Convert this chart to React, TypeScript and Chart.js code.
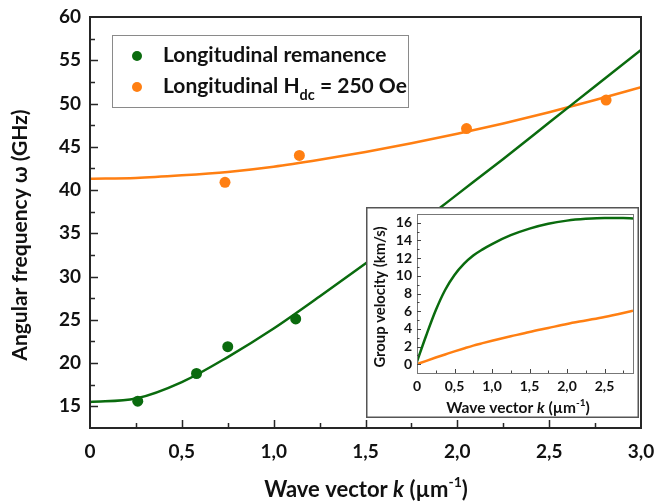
import React, { useEffect, useRef } from 'react';
import { Chart, registerables } from 'chart.js';

Chart.register(...registerables);

// ---------- Data ----------
const remanenceK = [0.26, 0.58, 0.75, 1.12];
const remanenceW = [15.6, 18.8, 21.9, 25.1];
const fieldK = [0.735, 1.14, 2.05, 2.81];
const fieldW = [40.9, 44.0, 47.1, 50.4];

const fitK = [0, 0.25, 0.5, 0.75, 1.0, 1.25, 1.5, 1.75, 2.0, 2.25, 2.5, 2.75, 3.0];
const remanenceFit = [15.5, 15.9, 17.8, 20.7, 24.0, 27.7, 31.5, 35.4, 39.5, 43.6, 47.8, 52.0, 56.2];
const fieldFit = [41.3, 41.4, 41.7, 42.1, 42.7, 43.5, 44.4, 45.4, 46.5, 47.7, 49.0, 50.4, 51.9];

const insetK = [0, 0.125, 0.25, 0.375, 0.5, 0.625, 0.75, 0.875, 1.0, 1.25, 1.5, 1.75, 2.0, 2.25, 2.5, 2.75, 2.88];
const remanenceVg = [0.3, 3.3, 6.1, 8.4, 10.1, 11.35, 12.3, 13.0, 13.6, 14.6, 15.35, 15.9, 16.25, 16.45, 16.55, 16.55, 16.5];
const fieldVg = [0.0, 0.38, 0.75, 1.1, 1.45, 1.78, 2.1, 2.38, 2.65, 3.15, 3.65, 4.1, 4.55, 4.95, 5.35, 5.8, 6.05];

const mainXTicks = [0, 0.25, 0.5, 0.75, 1.0, 1.25, 1.5, 1.75, 2.0, 2.25, 2.5, 2.75, 3.0];
const mainXLabels = ['0', '', '0,5', '', '1,0', '', '1,5', '', '2,0', '', '2,5', '', '3,0'];
const mainYTicks = [12.5, 15, 17.5, 20, 22.5, 25, 27.5, 30, 32.5, 35, 37.5, 40, 42.5, 45, 47.5, 50, 52.5, 55, 57.5, 60];
const mainYLabels = ['', '15', '', '20', '', '25', '', '30', '', '35', '', '40', '', '45', '', '50', '', '55', '', '60'];

const insetXTicks = [0, 0.25, 0.5, 0.75, 1.0, 1.25, 1.5, 1.75, 2.0, 2.25, 2.5, 2.75];
const insetXLabels = ['0', '', '0,5', '', '1,0', '', '1,5', '', '2,0', '', '2,5', ''];
const insetYTicks = [-1, 0, 1, 2, 3, 4, 5, 6, 7, 8, 9, 10, 11, 12, 13, 14, 15, 16, 17];
const insetYLabels = ['', '0', '', '2', '', '4', '', '6', '', '8', '', '10', '', '12', '', '14', '', '16', ''];

const legendLabels = ['Longitudinal remanence', 'Longitudinal H', 'dc', ' = 250 Oe'];

const GREEN = '#0a6b0e';
const ORANGE = '#ff7f12';
const FONT = 'Lato';

// ---------- helpers ----------
type Part = { text: string; size: number; italic?: boolean; dy?: number };

function fontOf(p: Part) {
  return `${p.italic ? 'italic ' : ''}bold ${p.size}px ${FONT}`;
}

function drawRich(ctx: CanvasRenderingContext2D, parts: Part[], cx: number, baseline: number) {
  let total = 0;
  for (const p of parts) {
    ctx.font = fontOf(p);
    total += ctx.measureText(p.text).width;
  }
  let x = cx - total / 2;
  ctx.textAlign = 'left';
  ctx.textBaseline = 'alphabetic';
  for (const p of parts) {
    ctx.font = fontOf(p);
    ctx.fillText(p.text, x, baseline + (p.dy || 0));
    x += ctx.measureText(p.text).width;
  }
}

function drawRichLeft(ctx: CanvasRenderingContext2D, parts: Part[], x0: number, baseline: number) {
  let x = x0;
  ctx.textAlign = 'left';
  ctx.textBaseline = 'alphabetic';
  for (const p of parts) {
    ctx.font = fontOf(p);
    ctx.fillText(p.text, x, baseline + (p.dy || 0));
    x += ctx.measureText(p.text).width;
  }
}

function isMajor(v: number, step: number) {
  const r = v / step;
  return Math.abs(r - Math.round(r)) < 1e-6;
}

function noPad(s: any) {
  s.paddingLeft = 0;
  s.paddingRight = 0;
  s.paddingTop = 0;
  s.paddingBottom = 0;
}

const mainDecor = {
  id: 'mainDecor',
  afterDraw(chart: any) {
    const { ctx, chartArea: a, scales } = chart;
    const xs = scales.x;
    const ys = scales.y;
    ctx.save();
    ctx.strokeStyle = '#262626';
    ctx.lineWidth = 1.5;
    ctx.beginPath();
    for (const v of mainXTicks) {
      if (v === 0 || v === 3.0) continue;
      const px = Math.round(xs.getPixelForValue(v)) + 0.5;
      const len = isMajor(v, 0.5) ? 8 : 5;
      ctx.moveTo(px, a.bottom);
      ctx.lineTo(px, a.bottom - len);
    }
    for (const v of mainYTicks) {
      if (v === 12.5 || v === 60) continue;
      const py = Math.round(ys.getPixelForValue(v)) + 0.5;
      const len = isMajor(v, 5) ? 8 : 5;
      ctx.moveTo(a.left, py);
      ctx.lineTo(a.left + len, py);
    }
    ctx.stroke();
    ctx.lineWidth = 2;
    ctx.strokeRect(a.left, a.top, a.right - a.left, a.bottom - a.top);

    ctx.fillStyle = '#111';
    // x title
    drawRich(ctx, [
      { text: 'Wave vector ', size: 22 },
      { text: 'k', size: 22, italic: true },
      { text: ' (µm', size: 22 },
      { text: '-1', size: 14, dy: -10 },
      { text: ')', size: 22 },
    ], 366, 497);
    // y title
    ctx.save();
    ctx.translate(27, 235);
    ctx.rotate(-Math.PI / 2);
    drawRich(ctx, [{ text: 'Angular frequency ω (GHz)', size: 21 }], 0, 0);
    ctx.restore();

    // legend
    ctx.fillStyle = '#fff';
    ctx.fillRect(112, 35, 296, 72);
    ctx.strokeStyle = '#8a8a8a';
    ctx.lineWidth = 1;
    ctx.strokeRect(112.5, 35.5, 296, 72);
    ctx.fillStyle = GREEN;
    ctx.beginPath();
    ctx.arc(137, 56, 5, 0, Math.PI * 2);
    ctx.fill();
    ctx.fillStyle = ORANGE;
    ctx.beginPath();
    ctx.arc(137, 87, 5, 0, Math.PI * 2);
    ctx.fill();
    ctx.fillStyle = '#111';
    drawRichLeft(ctx, [{ text: legendLabels[0], size: 21 }], 163, 62);
    drawRichLeft(ctx, [
      { text: legendLabels[1], size: 21 },
      { text: legendLabels[2], size: 14.5, dy: 7 },
      { text: legendLabels[3], size: 21 },
    ], 163, 93);
    ctx.restore();
  },
};

const insetDecor = {
  id: 'insetDecor',
  beforeDraw(chart: any) {
    const { ctx, width, height } = chart;
    ctx.save();
    ctx.fillStyle = '#fff';
    ctx.fillRect(0, 0, width, height);
    ctx.restore();
  },
  afterDraw(chart: any) {
    const { ctx, chartArea: a, scales, width, height } = chart;
    const xs = scales.x;
    const ys = scales.y;
    ctx.save();
    ctx.strokeStyle = '#555';
    ctx.lineWidth = 1.5;
    ctx.strokeRect(0.75, 0.75, width - 1.5, height - 1.5);
    ctx.strokeStyle = '#777';
    ctx.lineWidth = 1;
    ctx.strokeRect(Math.round(a.left) + 0.5, Math.round(a.top) + 0.5, Math.round(a.right - a.left), Math.round(a.bottom - a.top));
    ctx.strokeStyle = '#444';
    ctx.beginPath();
    for (const v of insetXTicks) {
      if (v === 0) continue;
      const px = Math.round(xs.getPixelForValue(v)) + 0.5;
      const len = isMajor(v, 0.5) ? 4 : 2.5;
      ctx.moveTo(px, a.bottom);
      ctx.lineTo(px, a.bottom - len);
    }
    for (const v of insetYTicks) {
      if (v === -1 || v === 17) continue;
      const py = Math.round(ys.getPixelForValue(v)) + 0.5;
      const len = isMajor(v, 2) ? 4 : 2.5;
      ctx.moveTo(a.left, py);
      ctx.lineTo(a.left + len, py);
    }
    ctx.stroke();

    ctx.fillStyle = '#111';
    drawRich(ctx, [
      { text: 'Wave vector ', size: 15.5 },
      { text: 'k', size: 15.5, italic: true },
      { text: ' (µm', size: 15.5 },
      { text: '-1', size: 10, dy: -7 },
      { text: ')', size: 15.5 },
    ], 152, 206);
    ctx.save();
    ctx.translate(19, 90);
    ctx.rotate(-Math.PI / 2);
    drawRich(ctx, [{ text: 'Group velocity (km/s)', size: 14.8 }], 0, 0);
    ctx.restore();
    ctx.restore();
  },
};

function pts(xs: number[], ys: number[]) {
  return xs.map((x, i) => ({ x, y: ys[i] }));
}

export default function App() {
  const mainRef = useRef<HTMLCanvasElement>(null);
  const insetRef = useRef<HTMLCanvasElement>(null);

  useEffect(() => {
    const main = new Chart(mainRef.current as HTMLCanvasElement, {
      type: 'line',
      data: {
        datasets: [
          {
            label: 'Longitudinal remanence',
            data: pts(remanenceK, remanenceW),
            showLine: false,
            pointRadius: 5.5,
            pointBackgroundColor: GREEN,
            pointBorderWidth: 0,
            borderColor: GREEN,
          },
          {
            label: 'Longitudinal Hdc = 250 Oe',
            data: pts(fieldK, fieldW),
            showLine: false,
            pointRadius: 5.5,
            pointBackgroundColor: ORANGE,
            pointBorderWidth: 0,
            borderColor: ORANGE,
          },
          {
            label: 'fit remanence',
            data: pts(fitK, remanenceFit),
            borderColor: GREEN,
            borderWidth: 2.5,
            pointRadius: 0,
            cubicInterpolationMode: 'monotone',
          },
          {
            label: 'fit field',
            data: pts(fitK, fieldFit),
            borderColor: ORANGE,
            borderWidth: 2.5,
            pointRadius: 0,
            cubicInterpolationMode: 'monotone',
          },
        ],
      },
      options: {
        responsive: false,
        animation: false,
        events: [],
        layout: { padding: { left: 0, top: 17, right: 13, bottom: 0 } },
        plugins: { legend: { display: false }, tooltip: { enabled: false } },
        scales: {
          x: {
            type: 'linear',
            min: 0,
            max: 3.0,
            afterBuildTicks: (s: any) => { s.ticks = mainXTicks.map((v) => ({ value: v })); },
            afterFit: (s: any) => { s.height = 76; noPad(s); },
            grid: { display: false, drawTicks: false },
            border: { display: false },
            ticks: {
              autoSkip: false,
              maxRotation: 0,
              padding: 12,
              color: '#111',
              font: { family: FONT, weight: 'bold', size: 19 },
              callback: (_v: any, i: number) => mainXLabels[i],
            },
          },
          y: {
            type: 'linear',
            min: 12.5,
            max: 60,
            afterBuildTicks: (s: any) => { s.ticks = mainYTicks.map((v) => ({ value: v })); },
            afterFit: (s: any) => { s.width = 90; noPad(s); },
            grid: { display: false, drawTicks: false },
            border: { display: false },
            ticks: {
              autoSkip: false,
              padding: 9,
              color: '#111',
              font: { family: FONT, weight: 'bold', size: 19 },
              callback: (_v: any, i: number) => mainYLabels[i],
            },
          },
        },
      },
      plugins: [mainDecor],
    } as any);

    const inset = new Chart(insetRef.current as HTMLCanvasElement, {
      type: 'line',
      data: {
        datasets: [
          {
            label: 'remanence vg',
            data: pts(insetK, remanenceVg),
            borderColor: GREEN,
            borderWidth: 2.5,
            pointRadius: 0,
            cubicInterpolationMode: 'monotone',
          },
          {
            label: 'field vg',
            data: pts(insetK, fieldVg),
            borderColor: ORANGE,
            borderWidth: 2.5,
            pointRadius: 0,
            cubicInterpolationMode: 'monotone',
          },
        ],
      },
      options: {
        responsive: false,
        animation: false,
        events: [],
        layout: { padding: { left: 0, top: 7, right: 6, bottom: 0 } },
        plugins: { legend: { display: false }, tooltip: { enabled: false } },
        scales: {
          x: {
            type: 'linear',
            min: 0,
            max: 2.88,
            afterBuildTicks: (s: any) => { s.ticks = insetXTicks.map((v) => ({ value: v })); },
            afterFit: (s: any) => { s.height = 45; noPad(s); },
            grid: { display: false, drawTicks: false },
            border: { display: false },
            ticks: {
              autoSkip: false,
              maxRotation: 0,
              padding: 5,
              color: '#111',
              font: { family: FONT, weight: 'bold', size: 14 },
              callback: (_v: any, i: number) => insetXLabels[i],
            },
          },
          y: {
            type: 'linear',
            min: -1,
            max: 17,
            afterBuildTicks: (s: any) => { s.ticks = insetYTicks.map((v) => ({ value: v })); },
            afterFit: (s: any) => { s.width = 51; noPad(s); },
            grid: { display: false, drawTicks: false },
            border: { display: false },
            ticks: {
              autoSkip: false,
              padding: 5,
              color: '#111',
              font: { family: FONT, weight: 'bold', size: 14 },
              callback: (_v: any, i: number) => insetYLabels[i],
            },
          },
        },
      },
      plugins: [insetDecor],
    } as any);

    return () => {
      main.destroy();
      inset.destroy();
    };
  }, []);

  return (
    <div style={{ position: 'absolute', left: 0, top: 0, width: 654, height: 504, background: '#fff' }}>
      <canvas
        ref={mainRef}
        width={654}
        height={504}
        style={{ position: 'absolute', left: 0, top: 0, width: 654, height: 504 }}
      />
      <canvas
        ref={insetRef}
        width={273}
        height={211}
        style={{ position: 'absolute', left: 366, top: 207, width: 273, height: 211 }}
      />
    </div>
  );
}
